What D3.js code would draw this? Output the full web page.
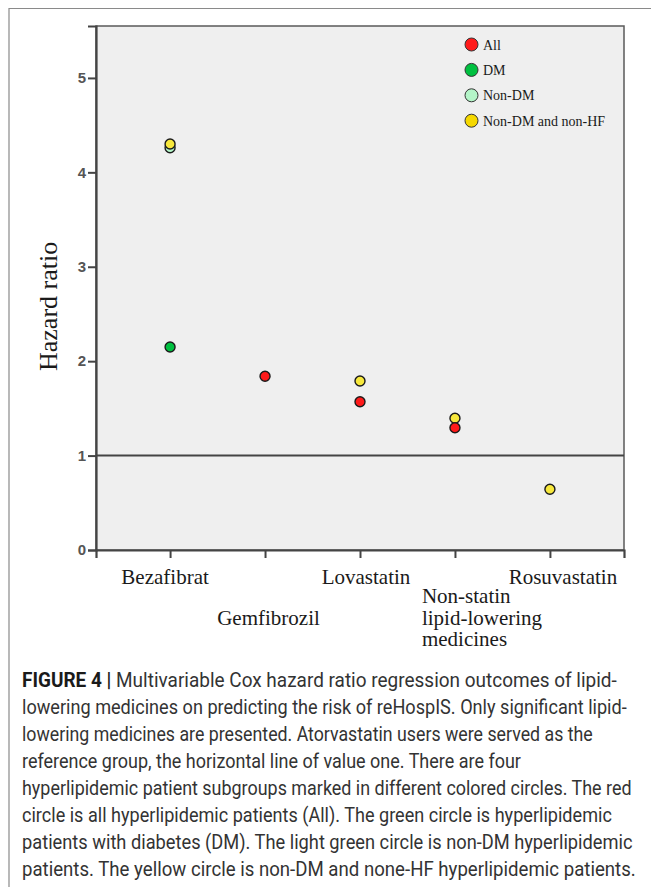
<!DOCTYPE html>
<html>
<head>
<meta charset="utf-8">
<script src="https://cdn.jsdelivr.net/npm/d3@7"></script>
<style>
  html, body { margin: 0; padding: 0; background: #fff; }
  svg { display: block; }
</style>
</head>
<body>
<svg id="chart" width="651" height="887"></svg>
<script>
// Lipid-lowering medicines (reference group: atorvastatin, HR = 1)
const categories = ["Bezafibrat", "Gemfibrozil", "Lovastatin", "Non-statin lipid-lowering medicines", "Rosuvastatin"];
const tickLabels = [["Bezafibrat"], ["Gemfibrozil"], ["Lovastatin"], ["Non-statin", "lipid-lowering", "medicines"], ["Rosuvastatin"]];

// Hazard ratios per subgroup (null = not significant / not shown)
const hrAll       = [null, 1.84, 1.57, 1.295, null];
const hrDM        = [2.15, null, null, null, null];
const hrNonDM     = [4.26, null, null, null, null];
const hrNonDMNoHF = [4.30, null, 1.79, 1.395, 0.643];

const yTicks = [0, 1, 2, 3, 4, 5];
const referenceHR = 1;

const seriesNames  = ["All", "DM", "Non-DM", "Non-DM and non-HF"];
const seriesColors = ["#ff1a1a", "#00c040", "#b4f5c8", "#f7e83c"];

const captionLines = [
  "Multivariable Cox hazard ratio regression outcomes of lipid-",
  "lowering medicines on predicting the risk of reHospIS. Only significant lipid-",
  "lowering medicines are presented. Atorvastatin users were served as the",
  "reference group, the horizontal line of value one. There are four",
  "hyperlipidemic patient subgroups marked in different colored circles. The red",
  "circle is all hyperlipidemic patients (All). The green circle is hyperlipidemic",
  "patients with diabetes (DM). The light green circle is non-DM hyperlipidemic",
  "patients. The yellow circle is non-DM and none-HF hyperlipidemic patients."
];

const svg = d3.select("#chart");
const serif = "'Liberation Serif', 'Times New Roman', serif";
const plot = { left: 96, top: 26, right: 624, bottom: 550 };

// outer figure frame
svg.append("path")
  .attr("d", "M9,887 V8.5 H651")
  .attr("fill", "none").attr("stroke", "#8a8a8a").attr("stroke-width", 1.2);

const x = d3.scalePoint().domain(categories).range([plot.left, plot.right]).padding(0.78);
const y = d3.scaleLinear().domain([0, 5.55]).range([plot.bottom, plot.top]);

// plot panel
svg.append("rect")
  .attr("x", plot.left).attr("y", plot.top)
  .attr("width", plot.right - plot.left).attr("height", plot.bottom - plot.top)
  .attr("fill", "#efefef").attr("stroke", "#5a5a5a").attr("stroke-width", 1.5);

// y axis
const yAxis = svg.append("g")
  .attr("transform", `translate(${plot.left},0)`)
  .call(d3.axisLeft(y).tickValues(yTicks).tickFormat(d3.format("d")).tickSize(8).tickPadding(2));
yAxis.select(".domain").attr("stroke", "#444").attr("stroke-width", 2.2);
yAxis.selectAll(".tick line").attr("stroke", "#444").attr("stroke-width", 2);
yAxis.selectAll(".tick text")
  .attr("font-family", "'Liberation Sans', Arial, sans-serif")
  .attr("font-size", 15).attr("font-weight", "bold").attr("fill", "#555");

// x axis
const xAxis = svg.append("g")
  .attr("transform", `translate(0,${plot.bottom})`)
  .call(d3.axisBottom(x).tickSize(8).tickFormat(""));
xAxis.select(".domain").attr("stroke", "#444").attr("stroke-width", 2.2);
xAxis.selectAll(".tick line").attr("stroke", "#444").attr("stroke-width", 2);

// staggered category labels
const labelLayout = [
  { dx: -5,  baseline: 584, anchor: "middle" },
  { dx: 3.5, baseline: 625, anchor: "middle" },
  { dx: 6,   baseline: 584, anchor: "middle" },
  { dx: -33, baseline: 603, anchor: "start" },
  { dx: 13,  baseline: 584, anchor: "middle" }
];
categories.forEach((c, i) => {
  const t = svg.append("text")
    .attr("font-family", serif).attr("font-size", 21).attr("fill", "#1a1a1a")
    .attr("text-anchor", labelLayout[i].anchor);
  tickLabels[i].forEach((line, j) => {
    t.append("tspan")
      .attr("x", x(c) + labelLayout[i].dx)
      .attr("y", labelLayout[i].baseline + j * 21.5)
      .text(line);
  });
});

// reference line at HR = 1
svg.append("line")
  .attr("x1", plot.left).attr("x2", plot.right)
  .attr("y1", y(referenceHR)).attr("y2", y(referenceHR))
  .attr("stroke", "#444").attr("stroke-width", 2);

// y axis title
svg.append("text")
  .attr("transform", `translate(57,${y(2.58)}) rotate(-90)`)
  .attr("text-anchor", "middle")
  .attr("font-family", serif).attr("font-size", 26).attr("fill", "#1a1a1a")
  .text("Hazard ratio");

// points; drawing order keeps red on top
const seriesValues = [hrAll, hrDM, hrNonDM, hrNonDMNoHF];
const drawOrder = [2, 3, 1, 0];
drawOrder.forEach(s => {
  const pts = categories.map((c, i) => ({ c, v: seriesValues[s][i] })).filter(d => d.v != null);
  svg.append("g").selectAll("circle").data(pts).join("circle")
    .attr("cx", d => x(d.c)).attr("cy", d => y(d.v)).attr("r", 5)
    .attr("fill", seriesColors[s]).attr("stroke", "#1a1a1a").attr("stroke-width", 1.4);
});

// legend
const legend = svg.append("g").attr("transform", "translate(471.5,44.5)");
seriesNames.forEach((name, i) => {
  const g = legend.append("g").attr("transform", `translate(0,${i * 25.4})`);
  g.append("circle").attr("r", 6.5)
    .attr("fill", i === 3 ? "#f5d800" : seriesColors[i])
    .attr("stroke", "#333").attr("stroke-width", 1);
  g.append("text").attr("x", 11.5).attr("y", 5)
    .attr("font-family", serif).attr("font-size", 14).attr("fill", "#1a1a1a")
    .text(name);
});

// caption in a condensed setting: each line is squeezed horizontally to its width
const captionLeft = 22;
const captionRight = [617, 627, 593, 521, 632, 612, 633, 636];
captionLines.forEach((line, i) => {
  const t = svg.append("text")
    .attr("font-family", "Roboto, 'Liberation Sans', sans-serif")
    .attr("font-size", 19.5).attr("fill", "#333");
  if (i === 0) {
    t.append("tspan").attr("font-weight", "bold").attr("fill", "#1a1a1a").text("FIGURE 4 | ");
    t.append("tspan").text(line);
  } else {
    t.text(line);
  }
  const natural = t.node().getComputedTextLength();
  const k = (captionRight[i] - captionLeft) / natural;
  t.attr("transform", `translate(${captionLeft},${687 + i * 27}) scale(${k},1)`);
});
</script>
</body>
</html>
